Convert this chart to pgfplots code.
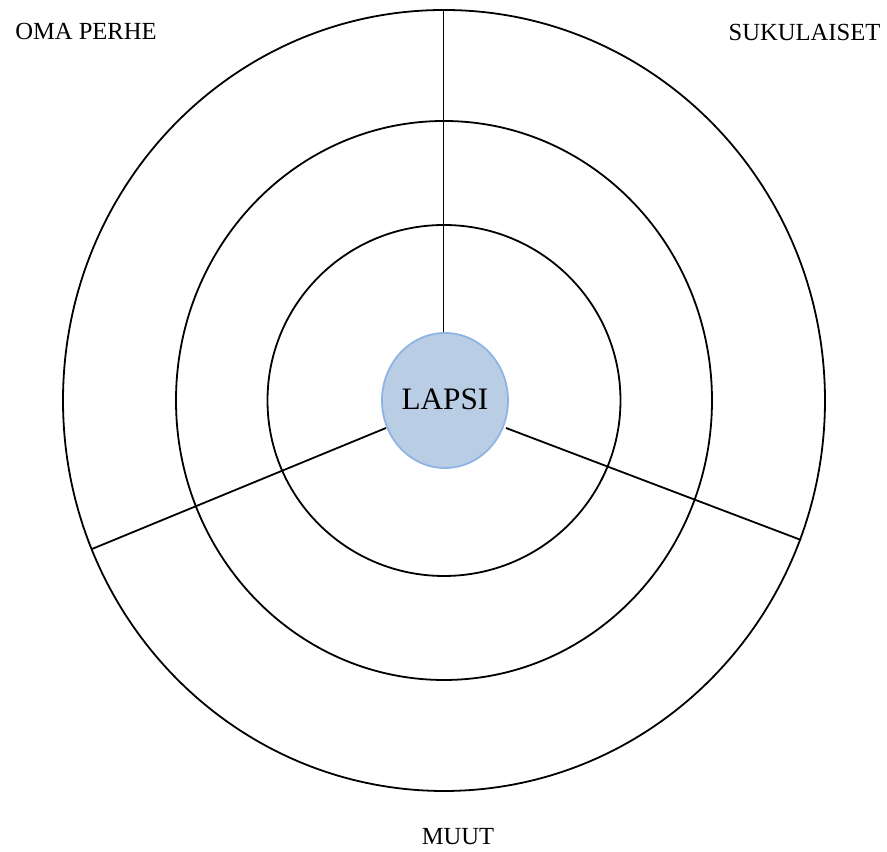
\documentclass[border=0pt]{standalone}
\usepackage{fontspec}
\setmainfont{Liberation Serif}
\usepackage{pgfplots}
\pgfplotsset{compat=1.18}
\definecolor{lapsifill}{HTML}{B9CDE5}
\definecolor{lapsiedge}{HTML}{8EB4E3}
\begin{document}
\begin{tikzpicture}
\begin{axis}[
  scale only axis,
  width=443.5pt, height=424pt,
  xmin=-444, xmax=443, ymin=-447.5, ymax=400.5,
  hide axis, clip=false,
]
% rings (radii x, y)
\draw[line width=0.9pt] (axis cs:0,0) ellipse [x radius=381, y radius=390.5];
\draw[line width=0.9pt] (axis cs:0,0) ellipse [x radius=268, y radius=279.5];
\draw[line width=0.9pt] (axis cs:0,0) ellipse [x radius=176.5, y radius=175.5];
% spokes
\addplot[black, line width=0.9pt] coordinates {(-0.5,67.5) (-0.5,390.5)};
\addplot[black, line width=0.9pt] coordinates {(-58,-27.5) (-352,-148.5)};
\addplot[black, line width=0.9pt] coordinates {(62,-27.5) (357,-139.5)};
% centre
\draw[fill=lapsifill, draw=lapsiedge, line width=0.9pt] (axis cs:1,0) ellipse [x radius=63, y radius=67.5];
\node[anchor=base, font=\fontsize{15.6}{18}\selectfont] at (axis cs:1,-9.5) {LAPSI};
\node[anchor=base, font=\fontsize{12.3}{14}\selectfont] at (axis cs:-358,360.5) {OMA PERHE};
\node[anchor=base, font=\fontsize{12.3}{14}\selectfont] at (axis cs:360.5,360) {SUKULAISET};
\node[anchor=base, font=\fontsize{12.3}{14}\selectfont] at (axis cs:14,-444.5) {MUUT};
\end{axis}
\path (current axis.south west) rectangle (current axis.north east);
\end{tikzpicture}
\end{document}
